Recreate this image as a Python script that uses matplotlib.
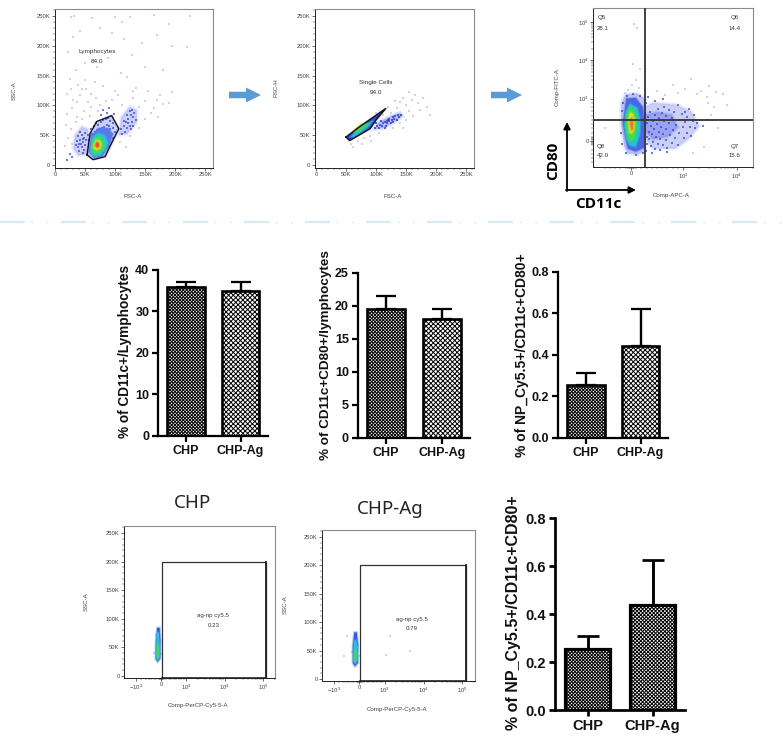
import numpy as np
import matplotlib
matplotlib.use('Agg')
import matplotlib.pyplot as plt
from matplotlib.patches import FancyArrow
from matplotlib.ticker import FixedLocator, NullFormatter

plt.rcParams['font.family'] = ['Liberation Sans', 'DejaVu Sans']
plt.rcParams['hatch.linewidth'] = 0.7

W, H = 784, 746

# bar charts
groups = ['CHP', 'CHP-Ag']
cd11c_mean = [36, 35]
cd11c_top = [37, 37]
cd80_mean = [19.5, 18]
cd80_top = [21.4, 19.5]
np_mean = [0.255, 0.44]
np_top = [0.31, 0.62]
np2_mean = [0.255, 0.44]
np2_top = [0.31, 0.625]

# gates and density regions, FSC/SSC in thousands
k_ticks = [0, 50, 100, 150, 200, 250]
lymph_gate = [(53, 17), (63, 9), (83, 14), (91, 31), (106, 61), (94, 83), (69, 73), (58, 53), (53, 17)]
lymph_haze = [(54, 16), (64, 10), (84, 15), (92, 31), (105, 61), (94, 82), (69, 72), (58, 53)]
left_haze = [(30, 28), (38, 16), (52, 18), (56, 40), (55, 60), (44, 64), (33, 50)]
right_haze = [(106, 50), (120, 52), (136, 72), (136, 92), (124, 98), (110, 80)]
lymph_blue = [(56, 22), (64, 12), (78, 14), (90, 32), (96, 52), (88, 62), (72, 62), (60, 50)]
lymph_cyan = [(58, 22), (64, 15), (74, 16), (84, 26), (88, 38), (82, 50), (72, 54), (62, 46)]
lymph_green = [(61, 23), (67, 19), (75, 21), (81, 30), (81, 40), (75, 47), (67, 47), (62, 36)]
lymph_yellow = [(64, 28), (69, 25), (75, 28), (77, 35), (74, 41), (68, 42), (64, 35)]
lymph_red = [(67, 31), (70, 29), (73, 31), (73, 36), (70, 39), (67, 36)]
lymph_dots = [
    (60, 60), (64, 66), (68, 70), (72, 68), (76, 73), (80, 75), (84, 77), (88, 79), (92, 74), (96, 70),
    (90, 66), (86, 68), (82, 64), (78, 62), (74, 60), (70, 58), (66, 56), (62, 52), (92, 60), (97, 62),
    (99, 56), (94, 52), (90, 48), (88, 56), (84, 52), (80, 57), (57, 42), (59, 34), (96, 46), (92, 40),
    (38, 30), (40, 36), (42, 42), (44, 30), (46, 38), (48, 46), (50, 34), (36, 40), (44, 50), (48, 26),
    (52, 42), (40, 24), (46, 20), (54, 50), (50, 54), (42, 56), (38, 48), (34, 34), (46, 44), (43, 35),
    (110, 60), (115, 66), (118, 72), (122, 78), (126, 84), (130, 80), (128, 72), (124, 66), (120, 62),
    (116, 56), (132, 88), (125, 90), (120, 84), (114, 74), (130, 66), (134, 76), (112, 52), (127, 60),
    (122, 70), (128, 92), (86, 88), (80, 92), (90, 96), (76, 84), (98, 86), (24, 18), (20, 8), (28, 14),
]
lymph_sparse = [
    (27, 248), (32, 250), (62, 247), (100, 248), (112, 240), (125, 248), (165, 252), (190, 236), (225, 250),
    (30, 215), (42, 225), (75, 230), (95, 222), (115, 212), (145, 205), (170, 218), (195, 200), (220, 198),
    (22, 190), (35, 160), (50, 172), (70, 165), (88, 180), (110, 155), (128, 185), (150, 165), (180, 160),
    (25, 145), (38, 135), (52, 128), (66, 140), (80, 132), (100, 125), (120, 148), (135, 130), (155, 125),
    (175, 118), (195, 122), (20, 120), (30, 110), (42, 118), (55, 105), (68, 112), (85, 108), (105, 118),
    (130, 112), (150, 108), (170, 110), (190, 104), (20, 85), (28, 95), (36, 80), (48, 90), (60, 98), (72, 90),
    (140, 98), (165, 96), (180, 102), (18, 68), (26, 60), (34, 72), (44, 78), (58, 82), (74, 100), (150, 78),
    (172, 80), (140, 62), (108, 38), (118, 30), (124, 48), (22, 45), (16, 32), (28, 36), (36, 105), (45, 128),
    (50, 142), (60, 120), (26, 128), (94, 110), (112, 100), (160, 88), (130, 125),
]

single_gate = [(50, 47), (56, 41), (90, 61), (100, 76), (116, 95), (92, 78), (72, 64), (50, 47)]
single_blue = [(51, 47), (56, 42), (90, 62), (100, 76), (114, 93), (92, 78), (72, 64)]
single_cyan = [(57, 47), (64, 47), (85, 62), (96, 75), (86, 70), (66, 56)]
single_green = [(64, 53), (72, 56), (88, 70), (82, 70), (70, 60)]
single_yellow = [(62, 55), (70, 62), (78, 70), (74, 69), (64, 60)]
single_band = [(96, 60), (112, 62), (130, 72), (144, 82), (140, 88), (124, 82), (104, 72)]
single_dots = [
    (98, 63), (102, 66), (106, 68), (110, 66), (114, 72), (118, 70), (122, 74), (126, 76), (130, 78), (134, 76),
    (138, 80), (142, 84), (128, 72), (120, 76), (112, 70), (104, 62), (116, 66), (132, 82), (124, 70), (136, 84),
    (108, 74), (100, 70), (114, 62), (128, 80), (122, 78), (118, 74),
]
single_sparse = [
    (150, 100), (160, 110), (170, 104), (155, 90), (172, 92), (145, 112), (165, 118), (185, 98), (178, 112),
    (150, 76), (140, 70), (162, 82), (135, 96), (125, 88), (112, 84), (145, 62), (128, 62), (105, 54), (90, 48),
    (80, 46), (70, 40), (62, 30), (58, 36), (76, 36), (92, 40), (155, 122), (140, 106), (120, 98), (190, 84),
    (132, 108), (100, 88),
]

# quadrant plot, compensated intensities
quad_x = 262
quad_y = 488
quad_haze = [(-190, 420), (-130, -120), (-60, -290), (120, -320), (262, -240), (262, 1000), (120, 1350), (-100, 1300), (-180, 900)]
quad_blue = [(-155, 420), (-110, 80), (-60, -180), (90, -250), (250, -160), (262, 350), (230, 800), (90, 1050), (-90, 1000)]
quad_cyan = [(-125, 350), (-90, 40), (-20, -100), (90, -140), (170, 150), (180, 500), (120, 780), (-20, 880), (-100, 680)]
quad_green = [(-95, 380), (-70, 120), (0, -20), (75, 60), (110, 300), (110, 560), (60, 740), (-30, 790), (-85, 600)]
quad_yellow = [(-50, 420), (-30, 200), (20, 170), (65, 280), (70, 500), (40, 640), (-20, 670), (-45, 540)]
quad_red = [(-15, 400), (10, 250), (40, 290), (45, 470), (20, 550), (-10, 520)]
right_blue = [(262, 60), (420, -180), (850, -180), (1300, 60), (2000, 360), (1400, 700), (850, 860), (420, 900), (262, 800)]
right_core = [(262, 240), (420, 40), (700, 100), (900, 320), (780, 620), (500, 680), (262, 620)]
quad_dots = [
    (300, 100), (340, 220), (380, 350), (420, 480), (460, 620), (520, 760), (300, 420), (320, 560), (360, 680),
    (310, -60), (350, 40), (400, 160), (440, 280), (490, 410), (540, 540), (590, 670), (640, 790), (380, -120),
    (430, -30), (480, 90), (530, 210), (580, 340), (630, 470), (680, 600), (730, 720), (460, -180), (510, -70),
    (560, 40), (620, 160), (670, 290), (720, 420), (780, 550), (830, 680), (560, -220), (620, -100), (680, 20),
    (740, 130), (800, 250), (860, 380), (920, 500), (980, 630), (700, -160), (780, -40), (850, 80), (920, 190),
    (990, 320), (1100, 440), (1200, 560), (900, -90), (1050, 60), (1200, 200), (1350, 340), (1500, 460), (1650, 300),
    (1800, 420), (1400, 120), (1100, 680), (1300, 760), (1600, 620), (2000, 500), (2300, 360), (900, 850),
    (-180, 700), (-150, 900), (-80, 1150), (40, 1300), (180, 1200), (-190, 200), (-170, -80), (-90, -280), (100, -320),
    (240, -280), (280, 900), (330, 1100), (470, 940), (610, 1000), (290, -240), (400, -280), (700, -260),
]
quad_sparse = [
    (60, 90000), (120, 70000), (40, 8000), (170, 6000), (100, 3000), (20, 2200), (150, 1900), (-60, 1700), (-120, 1400),
    (800, 2300), (1400, 3200), (2200, 1600), (3100, 2100), (900, 1400), (4200, 1500), (5600, 1300), (2800, 1100),
    (6500, 850), (3800, 800), (2900, 900), (1800, 1300), (1100, 1800), (3300, 620), (4400, 300), (500, 1600), (650, 1250),
    (-600, -400), (-500, 300), (2500, -150), (1500, -280),
]

# SSC vs Cy5.5 panels
cy_ticks = [-1000, 0, 1000, 10000, 100000]
chp_blue = [(-230, 30), (-150, 24), (-40, 30), (-30, 60), (-60, 84), (-160, 84), (-220, 60)]
chp_cyan = [(-200, 30), (-140, 27), (-70, 32), (-70, 60), (-100, 76), (-170, 76), (-200, 55)]
chp_green = [(-175, 34), (-120, 30), (-85, 36), (-85, 50), (-120, 58), (-170, 50)]
ag_blue = [(-260, 28), (-170, 22), (-50, 28), (-50, 62), (-100, 82), (-200, 82), (-260, 58)]
ag_cyan = [(-230, 30), (-160, 27), (-70, 32), (-70, 58), (-120, 68), (-200, 68), (-230, 52)]
ag_green = [(-200, 32), (-140, 30), (-100, 38), (-100, 48), (-150, 52), (-200, 46)]
chp_sparse = [(-230, 72), (-60, 62), (-300, 40), (-20, 38), (-160, 82)]
ag_sparse = [(-500, 75), (-620, 40), (-300, 48), (-40, 58), (1400, 75), (1100, 42), (4600, 50), (-180, 80), (20, 40)]


def px_axes(left, top, right, bottom):
    return fig.add_axes([left / W, 1 - bottom / H, (right - left) / W, (bottom - top) / H])


def pairs(points):
    return np.array(points, dtype=float).T


def power_label(v):
    if v == 0:
        return '0'
    sign = '-' if v < 0 else ''
    return r'$\mathregular{%s10^{%d}}$' % (sign, round(np.log10(abs(v))))


def flow_style(ax):
    for side in ['top', 'right']:
        ax.spines[side].set_color('#8a8a8a')
        ax.spines[side].set_linewidth(0.8)
    for side in ['left', 'bottom']:
        ax.spines[side].set_color('#222222')
        ax.spines[side].set_linewidth(0.7)
    ax.tick_params(which='major', length=2.2, width=0.5, labelsize=4.2, pad=1.2,
                   colors='#333333', labelcolor='#444444')
    ax.tick_params(which='minor', length=1.1, width=0.35, colors='#333333')


def k_axis(ax, axis):
    minor = [v for v in range(0, 265, 10)]
    labels = ['0' if v == 0 else '%dK' % v for v in k_ticks]
    if axis == 'x':
        ax.set_xticks(k_ticks, labels)
        ax.xaxis.set_minor_locator(FixedLocator(minor))
    else:
        ax.set_yticks(k_ticks, labels)
        ax.yaxis.set_minor_locator(FixedLocator(minor))


def fill_levels(ax, levels):
    # each level gets a faint stroke first so the edges are not so hard
    for points, color in levels:
        x, y = pairs(points)
        ax.fill(x, y, facecolor='none', edgecolor=color, lw=1.6, alpha=0.35, zorder=3)
        ax.fill(x, y, color=color, lw=0, zorder=3)


def haze(ax, points, color='#8f97ee', alpha=0.45):
    x, y = pairs(points)
    ax.fill(x, y, facecolor='none', edgecolor=color, lw=2.5, alpha=alpha * 0.4, zorder=1)
    ax.fill(x, y, color=color, alpha=alpha, lw=0, zorder=1)


def dots(ax, points, color, size=1.1, alpha=0.7):
    x, y = pairs(points)
    ax.scatter(x, y, s=size, c=color, marker='s', lw=0, alpha=alpha, zorder=2)


fig = plt.figure(figsize=(W / 100, H / 100), dpi=100)

# lymphocyte gate
ax = px_axes(54.7, 9, 213, 167.7)
ax.set_xlim(-1, 263)
ax.set_ylim(-4.5, 262)
flow_style(ax)
k_axis(ax, 'x')
k_axis(ax, 'y')
dots(ax, lymph_sparse, '#c2c5f0', 1.1, 0.8)
for region in [left_haze, right_haze, lymph_haze]:
    haze(ax, region)
fill_levels(ax, [(lymph_blue, '#5a78ea'), (lymph_cyan, '#27c4d8'), (lymph_green, '#3fdc5a'),
                 (lymph_yellow, '#d8e82e'), (lymph_red, '#f2502a')])
dots(ax, lymph_dots, '#3040d8')
gx, gy = pairs(lymph_gate)
ax.plot(gx, gy, color='#111111', lw=1.0, zorder=4)
ax.text(70, 190, 'Lymphocytes', fontsize=4.6, ha='center', va='center', color='#333333')
ax.text(70, 174, '84.0', fontsize=4.6, ha='center', va='center', color='#333333')

# single cell gate
ax = px_axes(315, 9, 474.3, 167.7)
ax.set_xlim(-1.6, 263)
ax.set_ylim(-4.5, 262)
flow_style(ax)
k_axis(ax, 'x')
k_axis(ax, 'y')
dots(ax, single_sparse, '#c2c5f0', 1.1, 0.8)
haze(ax, single_band, '#7f88ee', 0.55)
fill_levels(ax, [(single_blue, '#2f46d8'), (single_cyan, '#27b4d8'), (single_green, '#3fd46a'),
                 (single_yellow, '#cfe24a')])
dots(ax, single_dots, '#2f3fd8', 1.6, 0.8)
gx, gy = pairs(single_gate)
ax.plot(gx, gy, color='#111111', lw=1.0, zorder=4)
ax.text(100, 139, 'Single Cells', fontsize=4.6, ha='center', va='center', color='#333333')
ax.text(100, 122, '94.0', fontsize=4.6, ha='center', va='center', color='#333333')

# quadrants
ax = px_axes(593.3, 8.3, 752.7, 166.7)
ax.set_xscale('symlog', linthresh=1000, linscale=0.88)
ax.set_yscale('symlog', linthresh=1000, linscale=1.0)
ax.set_xlim(-720, 20000)
ax.set_ylim(-605, 230000)
flow_style(ax)
ax.set_xticks([0, 1000, 10000], [power_label(v) for v in [0, 1000, 10000]])
ax.set_yticks([0, 1000, 10000, 100000], [power_label(v) for v in [0, 1000, 10000, 100000]])
log_minor = [m * d for d in [1000, 10000] for m in range(2, 10)]
lin_minor = [-500, -400, -300, -200, -100, -60, -40, -20, 20, 40, 60, 100, 200, 300, 400, 500, 600, 700, 800, 900]
ax.xaxis.set_minor_locator(FixedLocator(lin_minor + log_minor))
ax.yaxis.set_minor_locator(FixedLocator(lin_minor + log_minor))
ax.xaxis.set_minor_formatter(NullFormatter())
ax.yaxis.set_minor_formatter(NullFormatter())
dots(ax, quad_sparse, '#c2c5f0', 1.1, 0.8)
haze(ax, right_blue, '#aab2f2', 0.6)
haze(ax, right_core, '#6f7eea', 0.55)
haze(ax, quad_haze, '#8f97ee', 0.55)
dots(ax, quad_dots, '#3040d8', 1.3, 0.7)
fill_levels(ax, [(quad_blue, '#4a66e6'), (quad_cyan, '#24c2cf'), (quad_green, '#46d850'),
                 (quad_yellow, '#d4e22c'), (quad_red, '#f07a28')])
ax.axvline(quad_x, color='#333333', lw=1.3, zorder=5)
ax.axhline(quad_y, color='#333333', lw=1.3, zorder=5)
for tx, ty, label in [(0.052, 0.94, 'Q5'), (0.059, 0.875, '28.1'), (0.889, 0.94, 'Q6'), (0.889, 0.875, '14.4'),
                      (0.044, 0.13, 'Q8'), (0.059, 0.068, '42.0'), (0.889, 0.13, 'Q7'), (0.889, 0.068, '15.6')]:
    ax.text(tx, ty, label, transform=ax.transAxes, fontsize=4.4, ha='center', va='center', color='#333333')

# Cy5.5 panels
for box, xlim, gate_right, gate_floor, levels, sparse, label, ylim in [
    ((124.3, 526.3, 275, 677.7), (-2040, 200000), 120000, -3.5, (chp_blue, chp_cyan, chp_green), chp_sparse,
     '0.23', (-3.5, 262)),
    ((322.3, 530, 475, 680.7), (-2000, 210000), 125000, -3, (ag_blue, ag_cyan, ag_green), ag_sparse,
     '0.79', (-3, 262)),
]:
    ax = px_axes(*box)
    ax.set_xscale('symlog', linthresh=1000, linscale=0.585)
    ax.set_xlim(*xlim)
    ax.set_ylim(*ylim)
    flow_style(ax)
    k_axis(ax, 'y')
    ax.set_xticks(cy_ticks, [power_label(v) for v in cy_ticks])
    ax.xaxis.set_minor_locator(FixedLocator(lin_minor + [-800, -600] + log_minor + [200000]))
    ax.xaxis.set_minor_formatter(NullFormatter())
    dots(ax, sparse, '#c2c5f0', 1.1, 0.8)
    fill_levels(ax, zip(levels, ['#3a5ae4', '#2bc0e0', '#49d65e']))
    ax.plot([40, 40, gate_right, gate_right], [gate_floor, 200, 200, gate_floor], color='#333333', lw=0.9, zorder=4)
    ax.plot([gate_right, gate_right], [gate_floor, 200], color='#222222', lw=1.3, zorder=4)
    ax.plot([40, gate_right], [gate_floor, gate_floor], color='#222222', lw=1.2, zorder=4, clip_on=False)
    ax.text(5000, 105, 'ag-np cy5.5', fontsize=4.4, ha='center', va='center', color='#333333')
    ax.text(5000, 88, label, fontsize=4.4, ha='center', va='center', color='#333333')


def bar_chart(box, means, tops, ylim, yticks, patterns, ylabel, label_x, label_y, tick_pt, label_pt, lw, cap):
    ax = px_axes(*box)
    xpos = [1, 2]
    for x, mean, top, pat in zip(xpos, means, tops, patterns):
        ax.bar(x, mean, width=0.69, facecolor='white', edgecolor='black', hatch=pat, linewidth=lw, zorder=2)
        ax.errorbar(x, mean, yerr=[[0], [top - mean]], color='black', capsize=cap, capthick=lw * 0.85,
                    elinewidth=lw * 0.9, zorder=3)
    ax.set_xlim(0.5, 2.5)
    ax.set_ylim(*ylim)
    ax.set_xticks(xpos, groups)
    ax.set_yticks(yticks)
    ax.spines['top'].set_visible(False)
    ax.spines['right'].set_visible(False)
    ax.spines['left'].set_linewidth(lw * 0.85)
    ax.spines['bottom'].set_linewidth(lw * 0.85)
    ax.tick_params(length=4, width=lw * 0.85, pad=2.5)
    for t in ax.get_xticklabels() + ax.get_yticklabels():
        t.set_fontsize(tick_pt)
        t.set_fontweight('bold')
        t.set_color('#111111')
    over.text(label_x, label_y, ylabel, rotation=90, fontsize=label_pt, fontweight='bold', ha='center', va='center',
              color='#111111')
    return ax


over = fig.add_axes([0, 0, 1, 1], zorder=10)
over.set_xlim(0, W)
over.set_ylim(H, 0)
over.axis('off')
over.patch.set_alpha(0)

fine = 'x' * 10
coarse = 'x' * 7
bar_chart((158.3, 270, 268, 435.7), cd11c_mean, cd11c_top, (0, 40), [0, 10, 20, 30, 40], [fine, coarse],
          '% of CD11c+/Lymphocytes', 125, 352, 9, 9.8, 1.9, 7.5)
bar_chart((358, 272.7, 470, 437.7), cd80_mean, cd80_top, (0, 25), [0, 5, 10, 15, 20, 25], [fine, coarse],
          '% of CD11c+CD80+/lymphocytes', 326, 355, 9, 9.7, 1.9, 7.5)
bar_chart((558.3, 271.7, 668, 437.7), np_mean, np_top, (0, 0.8), [0, 0.2, 0.4, 0.6, 0.8], [fine, coarse],
          '% of NP_Cy5.5+/CD11c+CD80+', 521.7, 355, 9, 10, 1.9, 7.5)
bar_chart((555, 518.3, 685, 710), np2_mean, np2_top, (0, 0.8), [0, 0.2, 0.4, 0.6, 0.8], [fine, 'x' * 9],
          '% of NP_Cy5.5+/CD11c+CD80+', 514, 613, 10.5, 11.5, 2.3, 8)

# flow axis titles
for x, y, text, rot in [(133, 197, 'FSC-A', 0), (14.5, 91, 'SSC-A', 90), (393, 197, 'FSC-A', 0), (276, 88, 'FSC-H', 90),
                        (671, 195, 'Comp-APC-A', 0), (557, 87, 'Comp-FITC-A', 90),
                        (198, 706, 'Comp-PerCP-Cy5-5-A', 0), (86, 602, 'SSC-A', 90),
                        (397, 709, 'Comp-PerCP-Cy5-5-A', 0), (285, 605, 'SSC-A', 90)]:
    over.text(x, y, text, rotation=rot, fontsize=4.4, ha='center', va='center', color='#444444')

# arrows between the panels
for x0, x1 in [(229, 261), (491, 522)]:
    over.add_patch(FancyArrow(x0, 95, x1 - x0, 0, width=6.5, head_width=15, head_length=15, length_includes_head=True,
                              color='#5b9bd5', lw=0))

over.annotate('', xy=(567, 122), xytext=(567, 191), arrowprops=dict(arrowstyle='-|>', color='black', lw=1.3, shrinkA=0, shrinkB=0))
over.annotate('', xy=(636, 190), xytext=(566, 190), arrowprops=dict(arrowstyle='-|>', color='black', lw=1.3, shrinkA=0, shrinkB=0))
over.text(553, 161, 'CD80', rotation=90, fontsize=11, fontweight='bold', ha='center', va='center', family='Open Sans')
over.text(598.5, 204, 'CD11c', fontsize=11, fontweight='bold', ha='center', va='center', family='Open Sans')
over.text(193, 503, 'CHP', fontsize=13.5, ha='center', va='center', family='Noto Sans', color='#222222')
over.text(390, 509, 'CHP-Ag', fontsize=13.5, ha='center', va='center', family='Noto Sans', color='#222222')

# dashed divider with the faint dots under it
over.plot([0, W], [222, 222], color='#e6e6e6', lw=1.0, linestyle=(0, (1.5, 9.5)))
over.plot([0, W], [222, 222], color='#d6ebf8', lw=1.6, linestyle=(0, (11.25, 16.2)))

fig.savefig('out.png', dpi=100)
